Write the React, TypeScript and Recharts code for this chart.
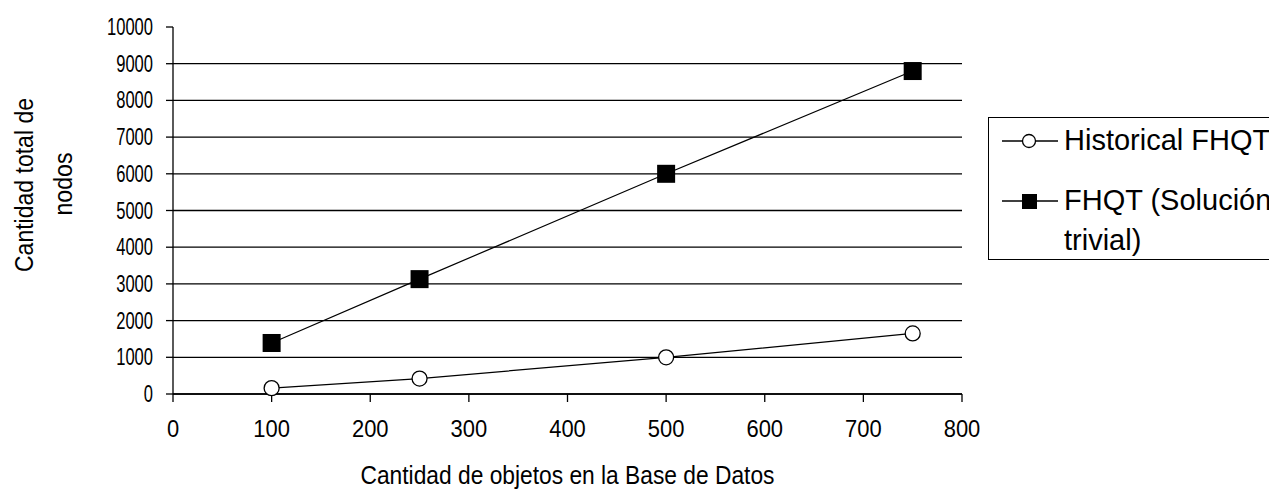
import React from "react";
import {
  LineChart,
  Line,
  XAxis,
  YAxis,
  CartesianGrid,
  Label,
} from "recharts";

// values
const objetos = [100, 250, 500, 750];
const historical = [160, 420, 1000, 1650];
const trivial = [1390, 3130, 6000, 8800];

const xTicks = [0, 100, 200, 300, 400, 500, 600, 700, 800];
const yTicks = [0, 1000, 2000, 3000, 4000, 5000, 6000, 7000, 8000, 9000, 10000];
const gridValues = [0, 1000, 2000, 3000, 4000, 5000, 6000, 7000, 8000, 9000];

const seriesNames = ["Historical FHQT", "FHQT (Solución trivial)"];

const data = objetos.map((x, i) => ({
  x,
  historical: historical[i],
  trivial: trivial[i],
}));

const FONT = "'Liberation Sans', Arial, sans-serif";

const YTick = (props: any) => {
  const { x, y, payload } = props;
  const s = String(payload.value);
  return (
    <text
      x={x - 11}
      y={y + 8}
      textAnchor="end"
      fontFamily={FONT}
      fontSize={24}
      fill="#000"
      textLength={s.length * 9.2}
      lengthAdjust="spacingAndGlyphs"
    >
      {s}
    </text>
  );
};

const XTick = (props: any) => {
  const { x, y, payload } = props;
  const s = String(payload.value);
  return (
    <text
      x={x}
      y={y + 33}
      textAnchor="middle"
      fontFamily={FONT}
      fontSize={23}
      fill="#000"
      textLength={s.length * 12.2}
      lengthAdjust="spacingAndGlyphs"
    >
      {s}
    </text>
  );
};

const CircleDot = (props: any) => {
  const { cx, cy } = props;
  if (cx == null || cy == null) return null;
  return <circle cx={cx} cy={cy} r={7.5} fill="#fff" stroke="#000" strokeWidth={1.3} />;
};

const SquareDot = (props: any) => {
  const { cx, cy } = props;
  if (cx == null || cy == null) return null;
  return <rect x={cx - 9} y={cy - 9} width={18} height={18} fill="#000" />;
};

// drawn beside the chart so it doesn't eat into the plot area
const LegendBox = () => (
  <div
    style={{
      position: "absolute",
      left: 988,
      top: 117,
      border: "1.5px solid #000",
      width: 320,
      height: 143,
      boxSizing: "border-box",
      background: "#fff",
      fontFamily: FONT,
      fontSize: 29,
      lineHeight: "40px",
      color: "#000",
      paddingTop: 2,
    }}
  >
    {seriesNames.map((name, i) => (
      <div key={name} style={{ display: "flex", marginBottom: 20 }}>
        <svg width={62} height={40} style={{ flex: "none", marginLeft: 13 }}>
          <line x1={0} x2={56} y1={21} y2={21} stroke="#000" strokeWidth={1.3} />
          {i === 0 ? (
            <circle cx={27} cy={21} r={6.5} fill="#fff" stroke="#000" strokeWidth={1.3} />
          ) : (
            <rect x={20} y={14} width={15} height={15} fill="#000" />
          )}
        </svg>
        <span style={{ width: 218, display: "inline-block" }}>{name}</span>
      </div>
    ))}
  </div>
);

const YTitle = () => (
  <g fontFamily={FONT} fontSize={26} fill="#000">
    <text
      x={33}
      y={185}
      textAnchor="middle"
      transform="rotate(-90 33 185)"
      textLength={174}
      lengthAdjust="spacingAndGlyphs"
    >
      Cantidad total de
    </text>
    <text
      x={72}
      y={184}
      textAnchor="middle"
      transform="rotate(-90 72 184)"
      textLength={63}
      lengthAdjust="spacingAndGlyphs"
    >
      nodos
    </text>
  </g>
);

export default function App() {
  return (
    <div
      style={{
        position: "absolute",
        left: 0,
        top: 0,
        width: 1269,
        height: 491,
        overflow: "hidden",
        background: "#fff",
      }}
    >
      <LineChart
        width={1269}
        height={491}
        data={data}
        margin={{ top: 27, right: 307, bottom: 0, left: 0 }}
      >
        <CartesianGrid
          horizontal={true}
          vertical={false}
          stroke="#000"
          strokeWidth={1.3}
          horizontalValues={gridValues}
        />
        <XAxis
          dataKey="x"
          type="number"
          domain={[0, 800]}
          ticks={xTicks}
          interval={0}
          tickSize={8}
          tickLine={{ stroke: "#000", strokeWidth: 1.3 }}
          axisLine={{ stroke: "#000", strokeWidth: 1.3 }}
          tick={<XTick />}
          height={97}
        >
          <Label
            content={() => (
              <text
                x={567.5}
                y={484}
                textAnchor="middle"
                fontFamily={FONT}
                fontSize={26}
                fill="#000"
                textLength={414}
                lengthAdjust="spacingAndGlyphs"
              >
                Cantidad de objetos en la Base de Datos
              </text>
            )}
          />
        </XAxis>
        <YAxis
          type="number"
          domain={[0, 10000]}
          ticks={yTicks}
          interval={0}
          width={173}
          tickSize={7}
          tickLine={{ stroke: "#000", strokeWidth: 1.3 }}
          axisLine={{ stroke: "#000", strokeWidth: 1.3 }}
          tick={<YTick />}
        >
          <Label content={() => <YTitle />} />
        </YAxis>
        <Line
          name={seriesNames[0]}
          dataKey="historical"
          stroke="#000"
          strokeWidth={1.2}
          dot={<CircleDot />}
          activeDot={false}
          isAnimationActive={false}
        />
        <Line
          name={seriesNames[1]}
          dataKey="trivial"
          stroke="#000"
          strokeWidth={1.2}
          dot={<SquareDot />}
          activeDot={false}
          isAnimationActive={false}
        />
      </LineChart>
      <LegendBox />
    </div>
  );
}
